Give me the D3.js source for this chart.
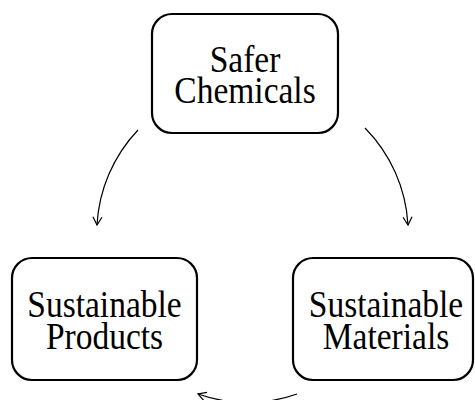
<!DOCTYPE html>
<html>
<head>
<meta charset="utf-8">
<script src="https://cdn.jsdelivr.net/npm/d3@7"></script>
<style>
  body { margin: 0; background: #fff; }
  text { font-family: "Liberation Serif", "Times New Roman", serif; }
</style>
</head>
<body>
<svg id="chart" width="475" height="400"></svg>
<script>
// the three stages of the cycle, each label split into two lines
var nodeNames = ["Safer Chemicals", "Sustainable Materials", "Sustainable Products"];
var nodeLines = [["Safer", "Chemicals"], ["Sustainable", "Materials"], ["Sustainable", "Products"]];
// arrows: from -> to (index into nodeNames)
var linkFrom = [0, 1, 0];
var linkTo   = [2, 2, 1];

var svg = d3.select("#chart"),
	width = +svg.attr("width"),
	height = +svg.attr("height");

// layout on a unit grid, scaled to pixels
var x = d3.scaleLinear().domain([0, 1]).range([104.5, 383]);
var y = d3.scaleLinear().domain([0, 1]).range([73.5, 319]);
var gridPos = [[0.5, 0], [1, 1], [0, 1]];   // top, bottom right, bottom left
var rad = 20;

var nodes = nodeNames.map(function(n, i) {
	return { name: n, lines: nodeLines[i], cx: x(gridPos[i][0]), cy: y(gridPos[i][1]), tx: 0 };
});
// top box is a touch narrower than the two lower ones
nodes[0].w = 186; nodes[0].h = 119; nodes[0].cx = 245;
nodes[1].w = 180; nodes[1].h = 122; nodes[1].tx = 3;
nodes[2].w = 185; nodes[2].h = 122;

svg.append("defs").append("marker")
	.attr("id", "head")
	.attr("viewBox", "-10 -6 12 12")
	.attr("refX", 0).attr("refY", 0)
	.attr("markerWidth", 12).attr("markerHeight", 12)
	.attr("markerUnits", "userSpaceOnUse")
	.attr("orient", "auto")
	.append("path")
	.attr("d", "M-8,-4.5L0,0L-8,4.5")
	.attr("fill", "none")
	.attr("stroke", "#000")
	.attr("stroke-width", 1.2);

// arrow end points sit just off the boxes
function arrowPath(k) {
	var a = nodes[linkFrom[k]], b = nodes[linkTo[k]], p0, p1, sweep, r;
	if (linkTo[k] == 2 && linkFrom[k] == 0) {        // top -> bottom left
		p0 = [a.cx - a.w / 2 - 14, a.cy + a.h / 2 - 3];
		p1 = [b.cx - 7.5, b.cy - b.h / 2 - 33];
		sweep = 0; r = 150;
	} else if (linkTo[k] == 1) {                       // top -> bottom right
		p0 = [a.cx + a.w / 2 + 27, a.cy + a.h / 2 - 5];
		p1 = [b.cx + 25, b.cy - b.h / 2 - 33];
		sweep = 1; r = 150;
	} else {                                           // bottom right -> bottom left
		p0 = [a.cx - a.w / 2 + 4, a.cy + a.h / 2 + 14];
		p1 = [b.cx + b.w / 2 + 1, b.cy + b.h / 2 + 14];
		sweep = 1; r = 150;
	}
	return "M" + p0 + "A" + r + "," + r + " 0 0 " + sweep + " " + p1;
}

svg.append("g").selectAll("path")
	.data(linkFrom)
	.enter().append("path")
	.attr("d", function(d, i) { return arrowPath(i); })
	.attr("fill", "none")
	.attr("stroke", "#000")
	.attr("stroke-width", 1.2)
	.attr("marker-end", "url(#head)");

var box = svg.append("g").selectAll("g")
	.data(nodes)
	.enter().append("g")
	.attr("transform", function(d) { return "translate(" + d.cx + "," + d.cy + ")"; });

box.append("rect")
	.attr("x", function(d) { return -d.w / 2; })
	.attr("y", function(d) { return -d.h / 2; })
	.attr("width", function(d) { return d.w; })
	.attr("height", function(d) { return d.h; })
	.attr("rx", rad).attr("ry", rad)
	.attr("fill", "#fff")
	.attr("stroke", "#000")
	.attr("stroke-width", 2.2);

box.each(function(d) {
	d3.select(this).selectAll("text")
		.data(d.lines)
		.enter().append("text")
		.attr("text-anchor", "middle")
		.attr("transform", function(t, i) { return "translate(" + d.tx + "," + (i == 0 ? -2 : 29.5) + ") scale(1,1.15)"; })
		.attr("font-size", 33.5)
		.attr("fill", "#000")
		.text(function(t) { return t; });
});
</script>
</body>
</html>
